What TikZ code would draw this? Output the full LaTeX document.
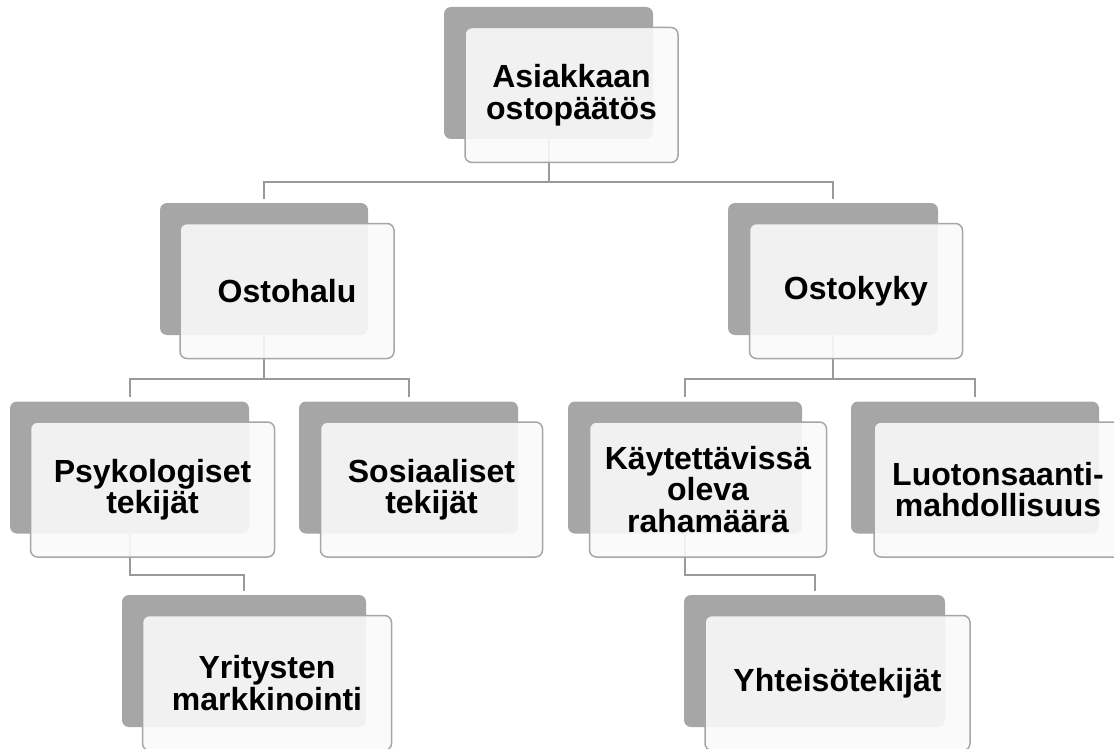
\documentclass[tikz,border=0pt]{standalone}
\usepackage{fontspec}
\setmainfont{Liberation Sans}
\usepackage{tikz}
\usetikzlibrary{positioning, calc}
\definecolor{boxgray}{HTML}{A6A6A6}
\definecolor{boxface}{HTML}{FAFAFA}
\definecolor{linegray}{HTML}{9A9A9A}

\begin{document}
\begin{tikzpicture}[x=1pt, y=1pt,
    back/.style={fill=boxgray, rounded corners=7pt, minimum height=132pt, inner sep=0pt},
    face/.style={draw=boxgray, line width=1.5pt, fill=boxface, fill opacity=0.9,
      text opacity=1, rounded corners=7pt, minimum height=135pt, inner sep=0pt,
      align=center, font=\fontsize{32}{31.5}\selectfont\bfseries},
    conn/.style={draw=linegray, line width=2pt, shorten >=4pt}]
      \useasboundingbox (0,0) rectangle (1114,-749);

      % grey boxes behind every entry
      \foreach \name/\x/\y/\w in {ask/548.5/73/209, halu/264/269/208, kyky/833/269/210,
          psyk/129.5/467.5/239, sos/408.5/467.5/219, kayt/685/467.5/234,
          luot/975/467.5/248, yrit/244/661/244, yht/814.5/661/261}
        \node[back, minimum width=\w] (\name) at (\x,-\y) {};

      % tree connectors
      \draw[conn] (ask.south) -- ++(0,-43) -| (halu.north);
      \draw[conn] (ask.south) -- ++(0,-43) -| (kyky.north);
      \draw[conn] (halu.south) -- ++(0,-44) -| (psyk.north);
      \draw[conn] (halu.south) -- ++(0,-44) -| (sos.north);
      \draw[conn] (kyky.south) -- ++(0,-44) -| (kayt.north);
      \draw[conn] (kyky.south) -- ++(0,-44) -| (luot.north);
      \draw[conn] (psyk.south) -- ++(0,-41) -| (yrit.north);
      \draw[conn] (kayt.south) -- ++(0,-41) -| (yht.north);

      % light faces with the labels
      \foreach \name/\w/\txt in {ask/213/{Asiakkaan\\ostopäätös}, halu/214/{Ostohalu},
          kyky/213/{Ostokyky}, psyk/244/{Psykologiset\\tekijät},
          sos/222/{Sosiaaliset\\tekijät}, kayt/237/{Käytettävissä\\oleva\\rahamäärä},
          luot/248/{Luotonsaanti-\\mahdollisuus}, yrit/249/{Yritysten\\markkinointi},
          yht/265/{Yhteisötekijät}}
        \node[face, minimum width=\w] (\name-f) at ([shift={(23,-22)}]\name.center) {\txt};

    \end{tikzpicture}
\end{document}
